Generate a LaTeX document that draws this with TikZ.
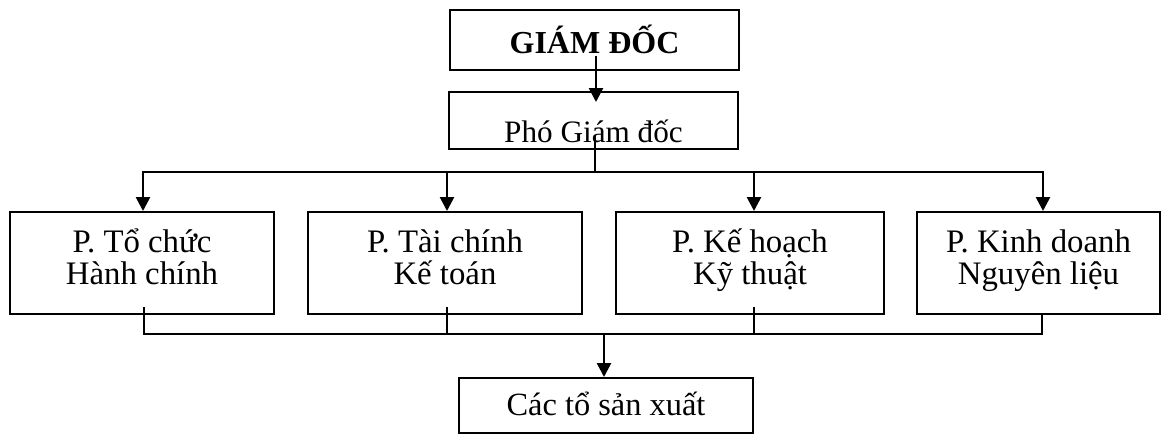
\documentclass[tikz,border=0pt]{standalone}
\usepackage{fontspec}
\setmainfont{Liberation Serif}
\usetikzlibrary{arrows.meta,calc}

\begin{document}
\begin{tikzpicture}[x=0.5pt,y=-0.5pt,
  hop/.style={draw,line width=1pt,inner sep=0pt,font=\fontsize{15.6}{16}\selectfont},
  phong/.style={hop,align=center,text height=36pt,text depth=15pt,font=\fontsize{16.4}{16}\selectfont},
  muiten/.style={-{Triangle[width=7pt,length=7pt]},line width=1.3pt},
  noi/.style={line width=1pt,line cap=rect}]
\useasboundingbox (0,0) rectangle (1162,434);
% ve cac o
\node[hop,font=\fontsize{16}{18}\selectfont\bfseries,minimum width=144.5pt,text height=21.5pt,text depth=8.5pt] (gd) at (594.5,40) {GIÁM ĐỐC};
\node[hop,minimum width=144.5pt,text height=25pt,text depth=3.5pt] (pgd) at (593.5,120.5) {Phó Giám đốc};
\node[phong,minimum width=132pt] (p1) at (142,263) {P. Tổ chức\\Hành chính};
\node[phong,minimum width=137pt] (p2) at (445,263) {P. Tài chính\\Kế toán};
\node[phong,minimum width=134pt] (p3) at (750,263) {P. Kế hoạch\\Kỹ thuật};
\node[phong,minimum width=121.5pt] (p4) at (1038.5,263) {P. Kinh doanh\\Nguyên liệu};
\node[hop,font=\fontsize{16.2}{18}\selectfont,minimum width=147pt,text height=18.5pt,text depth=9pt] (cac) at (606,405.5) {Các tổ sản xuất};
% giam doc xuong pho giam doc
\draw[muiten] ($(gd.south)+(1.5,-15)$) -- ($(pgd.north)+(2.5,11)$);
% pho giam doc xuong cac phong
\coordinate (tren) at ($(pgd.south)+(1.5,22)$);
\draw[noi] ($(pgd.south)+(1.5,-14)$) -- (tren);
\draw[noi] ([xshift=0.5pt]p1.north |- tren) -- ([xshift=2.25pt]p4.north |- tren);
\foreach \o/\d in {p1/0.5pt,p2/1pt,p3/2pt,p4/2.25pt}
  \draw[muiten] ([xshift=\d]\o.north |- tren) -- ([xshift=\d]\o.north);
% cac phong xuong cac to san xuat
\coordinate (duoi) at ($(cac.north)+(-2,-43)$);
\foreach \o/\d/\h in {p1/1pt/3.5pt,p2/1pt/3.5pt,p3/2pt/3.5pt,p4/1.75pt/0pt}
  \draw[noi] ([xshift=\d,yshift=\h]\o.south) -- ([xshift=\d]\o.south |- duoi);
\draw[noi] ([xshift=1pt]p1.south |- duoi) -- ([xshift=1.75pt]p4.south |- duoi);
\draw[muiten] (duoi) -- (cac.north -| duoi);
\end{tikzpicture}
\end{document}
